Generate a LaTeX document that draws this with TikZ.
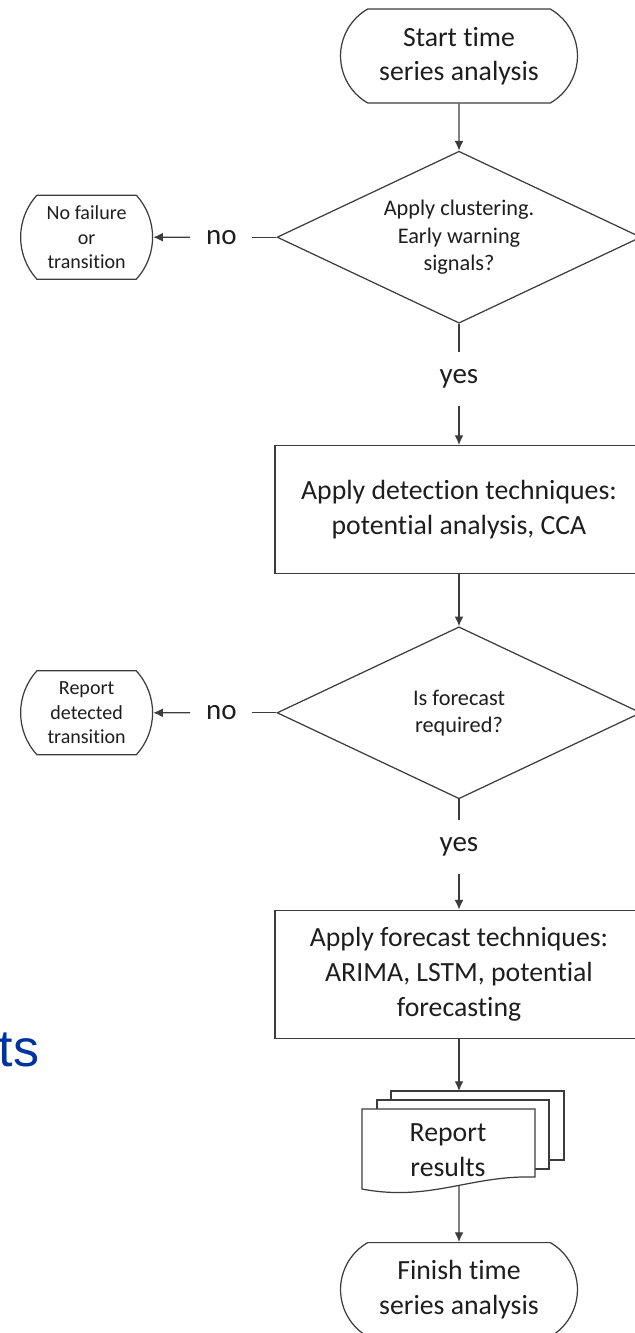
\documentclass[tikz,border=0pt]{standalone}
\usepackage{fontspec}
\setmainfont{Carlito}[Ligatures=NoCommon]
\newfontfamily\slidefont{Liberation Sans}
\usepackage{tikz}
\usetikzlibrary{arrows.meta,positioning,shapes.geometric,shapes.misc}
\definecolor{linegray}{RGB}{60,60,60}
\definecolor{textgray}{RGB}{30,30,30}
\definecolor{slideblue}{RGB}{0,51,160}

\begin{document}
\begin{tikzpicture}[
    x=0.02cm, y=-0.02cm, line width=0.7pt,
    term/.style={draw=linegray, rounded rectangle, rounded rectangle arc length=120,
                 minimum width=4.74cm, minimum height=1.88cm, inner sep=0pt,
                 align=center, text=textgray, font=\fontsize{15.8pt}{19.6pt}\selectfont},
    endterm/.style={term, rounded rectangle arc length=85, minimum width=2.64cm,
                 minimum height=1.68cm, font=\fontsize{11.4pt}{13.9pt}\selectfont},
    decision/.style={draw=linegray, diamond, aspect=2.1, inner sep=0pt,
                 minimum width=7.28cm, minimum height=3.44cm, align=center,
                 text=textgray, font=\fontsize{12.7pt}{15.5pt}\selectfont},
    process/.style={draw=linegray, rectangle, minimum width=7.36cm, minimum height=2.56cm,
                 align=center, text=textgray, font=\fontsize{15.8pt}{19.9pt}\selectfont},
    answer/.style={inner sep=0pt, text=textgray, font=\fontsize{16.5pt}{19pt}\selectfont},
    page/.style={draw=linegray, fill=white},
    doctext/.style={align=center, inner sep=0pt, text=textgray,
                 font=\fontsize{15.8pt}{19.6pt}\selectfont},
    line/.style={draw=linegray},
    arr/.style={draw=linegray, -{Latex[length=5.5pt,width=5pt]}}
]
    \useasboundingbox (0,0) rectangle (635,1333);
    \clip (0,0) rectangle (635,1333);
    \fill[white] (0,0) rectangle (635,1333);

    \node[anchor=base west, inner sep=0pt, text=slideblue,
          font=\slidefont\fontsize{29.6pt}{32pt}\selectfont] (tsfrag) at (-2,1066) {ts};

    \node[term] (start) at (459,56) {Start time\\series analysis};
    \node[decision, below=0.94cm of start] (dec1) {Apply clustering.\\Early warning\\signals?};
    \node[answer, minimum height=1.06cm, below=0.56cm of dec1] (yes1) {yes};
    \node[process, below=0.78cm of yes1] (proc1) {Apply detection techniques:\\potential analysis, CCA};
    \node[decision, below=1.04cm of proc1] (dec2) {Is forecast\\required?};
    \node[answer, minimum height=1.04cm, below=0.42cm of dec2] (yes2) {yes};
    \node[process, below=0.72cm of yes2] (proc2) {Apply forecast techniques:\\ARIMA, LSTM, potential\\forecasting};

    \node[answer, minimum width=1.22cm, left=0.48cm of dec1] (no1) {no};
    \node[endterm, left=0.74cm of no1] (nofail) {No failure\\or\\transition};
    \node[answer, minimum width=1.22cm, left=0.48cm of dec2] (no2) {no};
    \node[endterm, left=0.74cm of no2] (repdet) {Report\\detected\\transition};

    \draw[page] (391,1091) rectangle (564,1160);
    \draw[page] (377,1100) rectangle (549,1169);
    \draw[page] (362,1109) -- (535,1109) -- (535,1177)
        .. controls (470,1175) and (430,1202) .. (362,1189) -- cycle;
    \node[doctext] (report) at (448,1150) {Report\\results};
    \coordinate (stacktop) at (459,1091);
    \coordinate (stackbot) at (459,1186);

    \node[term, below=1.12cm of stackbot] (finish) {Finish time\\series analysis};

    \draw[arr] (start) -- (dec1);
    \draw[line] (dec1) -- (yes1);
    \draw[arr] (yes1) -- (proc1);
    \draw[arr] (proc1) -- (dec2);
    \draw[line] (dec2) -- (yes2);
    \draw[arr] (yes2) -- (proc2);
    \draw[arr] (proc2) -- (stacktop);
    \draw[arr] (stackbot) -- (finish);
    \draw[line] (dec1) -- (no1);
    \draw[arr] (no1) -- (nofail);
    \draw[line] (dec2) -- (no2);
    \draw[arr] (no2) -- (repdet);
\end{tikzpicture}
\end{document}
